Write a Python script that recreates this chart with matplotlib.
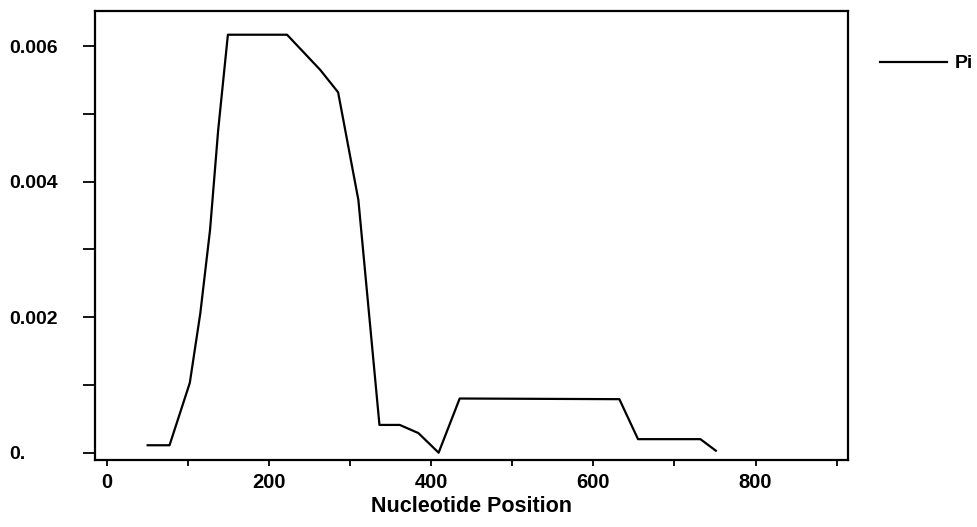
import matplotlib.pyplot as plt
from matplotlib.ticker import MultipleLocator

plt.rcParams['font.family'] = ['Liberation Sans', 'DejaVu Sans']
plt.rcParams['font.weight'] = 'bold'

# nucleotide diversity (Pi) along the sequence, sliding window
position = [50, 77, 102, 115, 127, 137, 149, 222, 263, 285, 310, 336, 361, 384,
            409, 435, 632, 655, 732, 751]
pi_values = [0.00011, 0.00011, 0.00103, 0.00206, 0.00329, 0.00476, 0.00617,
             0.00617, 0.00565, 0.00532, 0.00373, 0.00041, 0.00041, 0.00029,
             0.0, 0.00080, 0.00079, 0.00020, 0.00020, 0.00003]

x_ticks = [0, 200, 400, 600, 800]
y_ticks = [0, 0.002, 0.004, 0.006]
y_tick_labels = ['0.', '0.002', '0.004', '0.006']

fig = plt.figure(figsize=(9.78, 5.27), dpi=100)
ax = fig.add_axes([0.0971, 0.1271, 0.7699, 0.8520])

ax.plot(position, pi_values, color='black', linewidth=1.6, label='Pi')

ax.set_xlim(-15, 914)
ax.set_ylim(-0.000108, 0.00652)

ax.set_xticks(x_ticks)
ax.set_xticklabels([str(v) for v in x_ticks])
ax.xaxis.set_minor_locator(MultipleLocator(100))
ax.set_yticks(y_ticks)
ax.set_yticklabels(y_tick_labels)
ax.yaxis.set_minor_locator(MultipleLocator(0.001))

ax.tick_params(axis='y', which='both', direction='out', length=9, width=1.3,
               labelsize=14, pad=53)
ax.tick_params(axis='x', which='both', direction='out', length=4, width=1.3,
               labelsize=14.5, pad=5)
for lbl in ax.get_yticklabels():
    lbl.set_horizontalalignment('left')

for sp in ax.spines.values():
    sp.set_linewidth(1.6)

ax.set_xlabel('Nucleotide Position', fontsize=15.5, fontweight='bold', labelpad=3)

ax.legend(loc='center left', bbox_to_anchor=(1.02, 0.883), frameon=False,
          fontsize=14, handlelength=3.4, handletextpad=0.4)

fig.savefig('out.png', dpi=100)
